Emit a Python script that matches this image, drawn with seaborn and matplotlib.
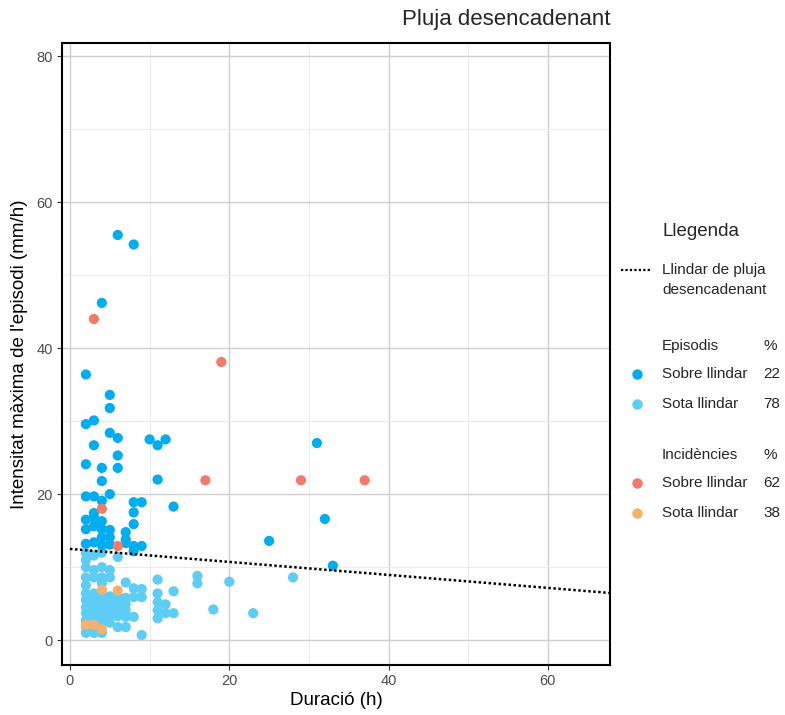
import numpy as np
import pandas as pd
import matplotlib
matplotlib.use("Agg")
import matplotlib.pyplot as plt
import seaborn as sns
from matplotlib.lines import Line2D
from matplotlib.ticker import MultipleLocator

# ---- data ----
ep_above_x = [6, 8, 4, 2, 5, 5, 2, 3, 5, 6, 3, 6, 10, 11, 12, 2, 4, 6, 4, 11,
              2, 3, 4, 5, 8, 9, 13, 3, 8, 2, 3, 4, 8, 2, 3, 4, 5, 7, 4, 5,
              7, 2, 3, 4, 5, 8, 9, 7, 8, 31, 32, 25, 33]
ep_above_y = [55.5, 54.2, 46.2, 36.4, 33.6, 31.8, 29.6, 30.1, 28.4, 27.7, 26.7, 25.3, 27.5, 26.7, 27.5, 24.1, 23.6, 23.6, 21.8, 22.0,
              19.7, 19.7, 19.1, 20.0, 18.9, 18.9, 18.3, 17.4, 17.5, 16.5, 16.8, 16.3, 15.9, 15.2, 15.6, 15.2, 15.1, 14.8, 14.1, 14.1,
              13.8, 13.2, 13.4, 13.0, 13.1, 12.9, 12.9, 13.3, 12.2, 27.0, 16.6, 13.6, 10.2]

ep_below_x = ([2] * 12 + [3] * 10 + [4] * 10 + [5] * 7 + [6] * 6 + [7] * 6 + [8] * 3 + [9] * 3
              + [11] * 5 + [12] * 2 + [13] * 2 + [16] * 2 + [18, 20, 23, 28])
ep_below_y = ([11.9, 11.0, 10.0, 8.6, 7.5, 6.4, 5.5, 4.5, 3.7, 2.7, 1.8, 1.0]
              + [11.6, 9.6, 8.6, 6.4, 5.5, 4.6, 3.7, 2.8, 1.8, 1.0]
              + [12.0, 10.0, 8.6, 7.8, 6.0, 5.0, 4.2, 3.3, 2.4, 1.0]
              + [9.6, 8.6, 6.0, 5.0, 4.2, 3.3, 2.4]
              + [11.4, 6.0, 5.0, 4.2, 3.3, 1.8]
              + [7.9, 5.8, 5.0, 4.1, 3.2, 1.8]
              + [7.1, 5.9, 3.2]
              + [7.0, 5.9, 0.7]
              + [8.3, 6.4, 5.2, 4.1, 3.0]
              + [4.9, 3.7]
              + [6.7, 3.7]
              + [8.8, 7.8]
              + [4.2, 8.0, 3.7, 8.6])

inc_above_x = [3, 19, 17, 29, 37, 4, 6]
inc_above_y = [44.0, 38.1, 21.9, 21.9, 21.9, 18.0, 12.9]
inc_below_x = [4, 6, 2, 3, 4]
inc_below_y = [6.9, 6.8, 2.1, 2.1, 1.5]

threshold_x = [0, 70]
threshold_y = [12.5, 6.27]

groups = ["Episodis sota", "Episodis sobre", "Incidències sota", "Incidències sobre"]
colors = ["#5DCDF6", "#00AEEF", "#F8B06C", "#F47B6C"]
pct_episodes = ["22", "78"]
pct_incidents = ["62", "38"]

df = pd.concat([
    pd.DataFrame({"x": ep_below_x, "y": ep_below_y, "g": groups[0]}),
    pd.DataFrame({"x": ep_above_x, "y": ep_above_y, "g": groups[1]}),
    pd.DataFrame({"x": inc_below_x, "y": inc_below_y, "g": groups[2]}),
    pd.DataFrame({"x": inc_above_x, "y": inc_above_y, "g": groups[3]}),
], ignore_index=True)

sns.set_theme(style="white")
plt.rcParams['font.family'] = ['Liberation Sans', 'DejaVu Sans']

W, H = 785, 715
fig = plt.figure(figsize=(W / 100, H / 100), dpi=100)
ax = fig.add_axes([62 / W, 50 / H, 548 / W, 622 / H])

ax.xaxis.set_major_locator(MultipleLocator(20))
ax.xaxis.set_minor_locator(MultipleLocator(10))
ax.yaxis.set_major_locator(MultipleLocator(20))
ax.yaxis.set_minor_locator(MultipleLocator(10))
ax.grid(which="major", color="#cfcfcf", lw=1.0, zorder=0)
ax.grid(which="minor", color="#ebebeb", lw=0.7, zorder=0)
ax.set_axisbelow(True)

sns.scatterplot(data=df, x="x", y="y", hue="g", hue_order=groups,
                palette=dict(zip(groups, colors)), s=54, linewidth=0,
                alpha=1, legend=False, ax=ax, zorder=3)

ax.plot(threshold_x, threshold_y, color="black", lw=1.8, ls=(0, (1, 1)), zorder=4)

ax.set_xlim(-1.0, 67.8)
ax.set_ylim(-3.4, 81.8)

for sp in ax.spines.values():
    sp.set_color("black")
    sp.set_linewidth(1.5)

ax.tick_params(which="major", bottom=True, left=True, direction="out", length=3.5,
               width=0.8, color="#333333", labelsize=10.5, labelcolor="#4d4d4d", pad=3)
ax.tick_params(which="minor", bottom=False, left=False)

ax.set_xlabel("Duració (h)", fontsize=13.5, color="black", labelpad=3)
ax.set_ylabel("Intensitat màxima de l'episodi (mm/h)", fontsize=13.5, color="black", labelpad=6)

fx = lambda px: px / W
fy = lambda py: 1 - py / H

fig.text(fx(610), fy(20), "Pluja desencadenant", ha="right", va="center", fontsize=16)

# legend
fig.text(fx(662), fy(232), "Llegenda", ha="left", va="center", fontsize=13.5)
fig.add_artist(Line2D([fx(621), fx(652)], [fy(270), fy(270)], transform=fig.transFigure,
                      color="black", lw=1.6, ls=(0, (1, 1))))
fig.text(fx(662), fy(270), "Llindar de pluja", ha="left", va="center", fontsize=11)
fig.text(fx(662), fy(290), "desencadenant", ha="left", va="center", fontsize=11)

def legend_block(y0, header, pcts, cols):
    fig.text(fx(662), fy(y0), header, ha="left", va="center", fontsize=11)
    fig.text(fx(763), fy(y0), "%", ha="left", va="center", fontsize=11)
    for i, (lab, p, c) in enumerate(zip(["Sobre llindar", "Sota llindar"], pcts, cols)):
        yy = y0 + 28 + 30 * i
        fig.add_artist(Line2D([fx(637)], [fy(yy)], transform=fig.transFigure, marker="o",
                              ms=7.5, mew=0, color=c, ls="none"))
        fig.text(fx(662), fy(yy), lab, ha="left", va="center", fontsize=11)
        fig.text(fx(763), fy(yy), p, ha="left", va="center", fontsize=11)

legend_block(346, "Episodis", pct_episodes, [colors[1], colors[0]])
legend_block(455, "Incidències", pct_incidents, [colors[3], colors[2]])

fig.savefig("out.png", dpi=100)
